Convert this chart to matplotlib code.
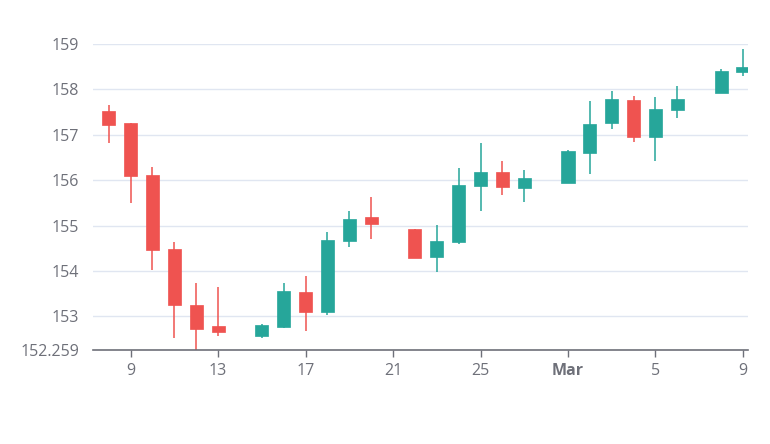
import matplotlib
matplotlib.use("Agg")
import matplotlib.pyplot as plt
import matplotlib.dates as mdates
import numpy as np
from datetime import date

# daily candles, Feb 8 .. Mar 9 (gaps where no trading)
dates = [date(2023, 2, 8), date(2023, 2, 9), date(2023, 2, 10), date(2023, 2, 11),
         date(2023, 2, 12), date(2023, 2, 13),
         date(2023, 2, 15), date(2023, 2, 16), date(2023, 2, 17), date(2023, 2, 18),
         date(2023, 2, 19), date(2023, 2, 20),
         date(2023, 2, 22), date(2023, 2, 23), date(2023, 2, 24), date(2023, 2, 25),
         date(2023, 2, 26), date(2023, 2, 27),
         date(2023, 3, 1), date(2023, 3, 2), date(2023, 3, 3), date(2023, 3, 4),
         date(2023, 3, 5), date(2023, 3, 6),
         date(2023, 3, 8), date(2023, 3, 9)]
opens  = [157.53, 157.25, 156.11, 154.48, 153.26, 152.79,
          152.56, 152.76, 153.54, 153.09, 154.66, 155.19,
          154.93, 154.30, 154.63, 155.87, 156.18, 155.83,
          155.94, 156.60, 157.25, 157.76, 156.95, 157.54,
          157.93, 158.38]
closes = [157.21, 156.10, 154.46, 153.24, 152.73, 152.65,
          152.80, 153.55, 153.10, 154.69, 155.15, 155.04,
          154.29, 154.67, 155.89, 156.18, 155.85, 156.05,
          156.64, 157.24, 157.79, 156.95, 157.56, 157.79,
          158.40, 158.49]
highs  = [157.65, 157.27, 156.28, 154.63, 153.73, 153.65,
          152.84, 153.73, 153.90, 154.85, 155.32, 155.63,
          154.93, 155.02, 156.26, 156.82, 156.42, 156.22,
          156.66, 157.74, 157.96, 157.85, 157.84, 158.08,
          158.45, 158.89]
lows   = [156.83, 155.50, 154.03, 152.53, 152.259, 152.57,
          152.53, 152.75, 152.68, 153.04, 154.53, 154.70,
          154.29, 153.98, 154.60, 155.33, 155.68, 155.51,
          155.94, 156.14, 157.12, 156.84, 156.43, 157.36,
          157.93, 158.30]

tick_dates = [date(2023, 2, 9), date(2023, 2, 13), date(2023, 2, 17), date(2023, 2, 21),
              date(2023, 2, 25), date(2023, 3, 1), date(2023, 3, 5), date(2023, 3, 9)]
tick_labels = ["9", "13", "17", "21", "25", "Mar", "5", "9"]
y_ticks = [152.259, 153, 154, 155, 156, 157, 158, 159]
y_labels = ["152.259", "153", "154", "155", "156", "157", "158", "159"]

UP = "#26a69a"
DOWN = "#ef5350"
TXT = "#6E7079"

plt.rcParams["font.family"] = ["Open Sans", "DejaVu Sans"]

fig = plt.figure(figsize=(7.7, 4.44), dpi=100)
ax = fig.add_axes([93 / 770, 1 - 350 / 444, 655 / 770, 306 / 444])

x = mdates.date2num(dates)
o = np.array(opens)
c = np.array(closes)
cols = [UP if cc >= oo else DOWN for oo, cc in zip(o, c)]

ax.vlines(x, lows, highs, colors=cols, lw=1.1, zorder=2)
ax.bar(x, np.maximum(np.abs(c - o), 0.02), bottom=np.minimum(o, c), width=0.6,
       color=cols, edgecolor=cols, lw=0.5, zorder=3)

ax.set_xlim(mdates.date2num(date(2023, 2, 8)) - 0.72, mdates.date2num(date(2023, 3, 9)) + 0.23)
ax.set_ylim(152.259, 159)

ax.set_xticks(mdates.date2num(tick_dates))
ax.set_xticklabels(tick_labels)
for lab in ax.get_xticklabels():
    if lab.get_text() == "Mar":
        lab.set_fontweight("bold")
ax.set_yticks(y_ticks)
ax.set_yticklabels(y_labels)

ax.tick_params(axis="x", length=5, width=1, color=TXT, labelcolor=TXT, labelsize=11.5, pad=4)
ax.tick_params(axis="y", length=0, labelcolor=TXT, labelsize=11.5, pad=10)

ax.grid(axis="y", color="#E0E6F1", lw=1)
ax.set_axisbelow(True)
for s in ["top", "right", "left"]:
    ax.spines[s].set_visible(False)
ax.spines["bottom"].set_color(TXT)
ax.spines["bottom"].set_linewidth(1.2)

fig.savefig("out.png", dpi=100)
